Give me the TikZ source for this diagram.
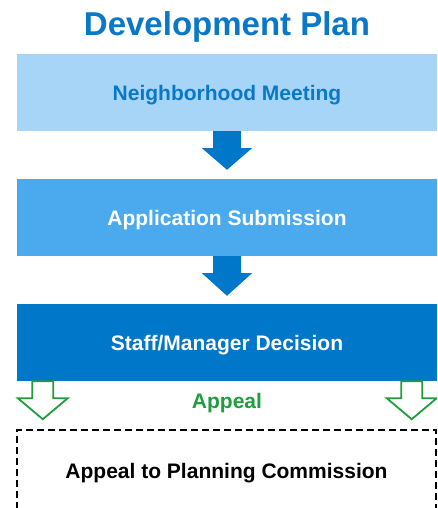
\documentclass[tikz,border=0pt]{standalone}
\usepackage{fontspec}
\setmainfont{Liberation Sans}
\usetikzlibrary{calc}
\definecolor{titleblue}{HTML}{0A78C8}
\definecolor{lightblue}{HTML}{A7D5F8}
\definecolor{midblue}{HTML}{4BAAEE}
\definecolor{darkblue}{HTML}{0077C8}
\definecolor{appealgreen}{HTML}{1F9E3C}
\tikzset{
  stage/.style={minimum width=420, minimum height=77, inner sep=0pt, text height=15pt, text depth=0pt, font=\fontsize{21}{25}\selectfont\bfseries},
  titletext/.style={inner sep=0pt, anchor=base, text=titleblue, font=\fontsize{33}{38}\selectfont\bfseries},
  bluearrow/.style={fill=darkblue, draw=none},
  greenarrow/.style={draw=appealgreen, line width=1.8pt, fill=white, line join=miter},
  appealbox/.style={draw=black, line width=1.5pt, dash pattern=on 7pt off 4pt, minimum width=419, minimum height=80, inner sep=0pt, text height=16pt, text depth=0pt, font=\fontsize{21}{25}\selectfont\bfseries}
}
\begin{document}
\begin{tikzpicture}[x=1pt,y=-1pt]
\useasboundingbox (0,0) rectangle (437,508);
\clip (0,0) rectangle (437,508);
\node[titletext] (title) at (227,36) {Development Plan};
\node[stage, fill=lightblue, text=titleblue] (nm) at (227,92.5) {Neighborhood Meeting};
\node[stage, fill=midblue, text=white] (as) at (227,217.5) {Application Submission};
\node[stage, fill=darkblue, text=white] (sd) at (227,342.5) {Staff/Manager Decision};
\node[appealbox] (pc) at (226.5,470) {Appeal to Planning Commission};
\node[inner sep=0pt, anchor=base, text=appealgreen, font=\fontsize{21}{25}\selectfont\bfseries] (ap) at (227,408.3) {Appeal};
% blue block arrows
\fill[bluearrow] ($(nm.south)+(-14,0)$) -- ++(0,17) -- ++(-11,0) -- ($(as.north)+(0,-9)$) -- ($(nm.south)+(25,17)$) -- ++(-11,0) -- ($(nm.south)+(14,0)$) -- cycle;
\fill[bluearrow] ($(as.south)+(-14,0)$) -- ++(0,17) -- ++(-11,0) -- ($(sd.north)+(0,-8)$) -- ($(as.south)+(25,17)$) -- ++(-11,0) -- ($(as.south)+(14,0)$) -- cycle;
% green hollow arrows
\coordinate (gl) at ($(sd.south west)+(26,0)$);
\coordinate (gr) at ($(sd.south east)+(-25.5,0)$);
\draw[greenarrow] (gl) ++(-10.5,0) -- ++(0,17) -- ++(-14.5,0) -- ++(25,21) -- ++(25,-21) -- ++(-14.5,0) -- ++(0,-17) -- cycle;
\draw[greenarrow] (gr) ++(-10.5,0) -- ++(0,17) -- ++(-14.5,0) -- ++(25,21) -- ++(25,-21) -- ++(-14.5,0) -- ++(0,-17) -- cycle;
\end{tikzpicture}
\end{document}
